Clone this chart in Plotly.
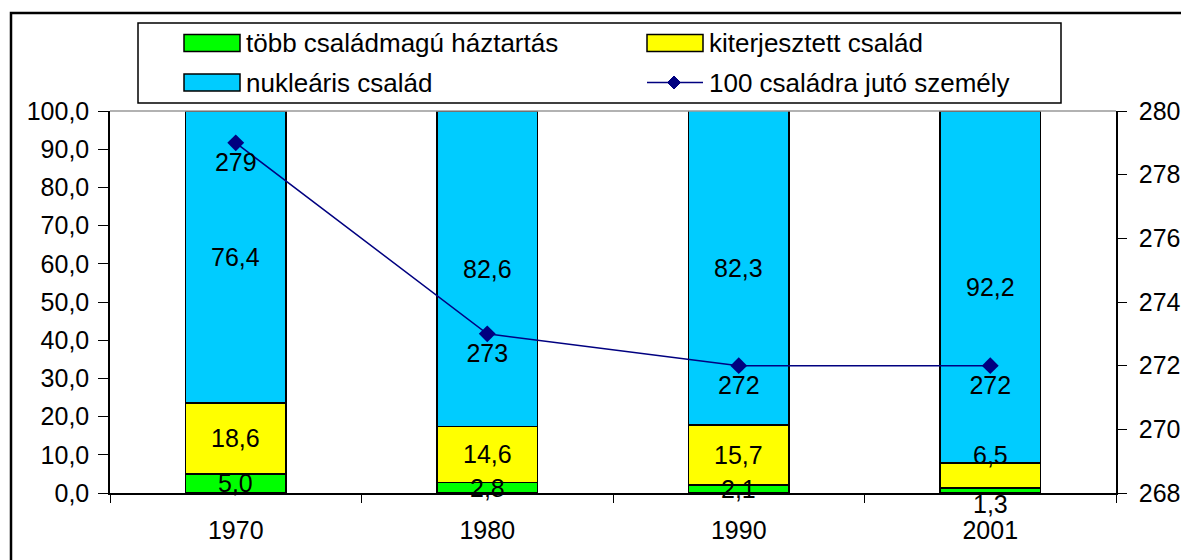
import plotly.graph_objects as go

# adatok
years = ["1970", "1980", "1990", "2001"]
tobb_csaladmagu = [5.0, 2.8, 2.1, 1.3]
kiterjesztett = [18.6, 14.6, 15.7, 6.5]
nuklearis = [76.4, 82.6, 82.3, 92.2]
szemely_100 = [279, 273, 272, 272]

FONT = "Liberation Sans, Arial, sans-serif"
FS = 25

# plot area in pixels (width 1181, height 560)
L, R, T, B = 110, 65, 111, 67
PW = 1181 - L - R
PH = 560 - T - B


def px_x(p):
    return (p - L) / PW


def px_y(p):
    return (560 - B - p) / PH


fig = go.Figure()

series = [
    ("több családmagú háztartás", tobb_csaladmagu, "#00FF00"),
    ("kiterjesztett család", kiterjesztett, "#FFFF00"),
    ("nukleáris család", nuklearis, "#00CCFF"),
]
for name, vals, col in series:
    fig.add_trace(go.Bar(
        x=years, y=vals, name=name,
        marker=dict(color=col, line=dict(color="black", width=1.5)),
        yaxis="y", hoverinfo="y+name", showlegend=False,
    ))

line_name = "100 családra jutó személy"
line_col = "#000080"
fig.add_trace(go.Scatter(
    x=years, y=szemely_100, name=line_name,
    mode="lines+markers+text",
    line=dict(color=line_col, width=1.5),
    marker=dict(symbol="diamond", size=13, color=line_col),
    text=[str(v) for v in szemely_100],
    textposition="bottom center",
    textfont=dict(family=FONT, size=FS, color="black"),
    yaxis="y2", showlegend=False,
))

# bar segment labels centred in each segment (a few nudged as in the original)
nudge = {(3, 0): -13, (3, 1): 21}
annotations = []
for i, yr in enumerate(years):
    base = 0
    for k, (_, vals, _) in enumerate(series):
        v = vals[i]
        annotations.append(dict(
            x=i, y=base + v / 2, xref="x", yref="y",
            text=f"{v:.1f}".replace(".", ","), showarrow=False,
            yshift=nudge.get((i, k), 0),
            font=dict(family=FONT, size=FS, color="black"),
        ))
        base += v

# hand-drawn legend box (Excel style, wide swatches)
shapes = [
    dict(type="rect", xref="paper", yref="paper",
         x0=px_x(138), x1=px_x(1061), y0=px_y(23), y1=px_y(103),
         line=dict(color="black", width=1.5), fillcolor="white", layer="above"),
]
legend_items = [
    (series[0][0], series[0][2], 184, 43),
    (series[1][0], series[1][2], 647, 43),
    (series[2][0], series[2][2], 184, 82.5),
    (line_name, None, 647, 82.5),
]
for name, col, lx, ly in legend_items:
    if col:
        shapes.append(dict(type="rect", xref="paper", yref="paper",
                           x0=px_x(lx), x1=px_x(lx + 56), y0=px_y(ly - 8.5), y1=px_y(ly + 8.5),
                           line=dict(color="black", width=1.5), fillcolor=col, layer="above"))
    else:
        shapes.append(dict(type="line", xref="paper", yref="paper",
                           x0=px_x(lx), x1=px_x(lx + 56), y0=px_y(ly), y1=px_y(ly),
                           line=dict(color=line_col, width=1.5), layer="above"))
        cx, r = lx + 27, 6.5
        path = (f"M {px_x(cx)} {px_y(ly - r)} L {px_x(cx + r)} {px_y(ly)} "
                f"L {px_x(cx)} {px_y(ly + r)} L {px_x(cx - r)} {px_y(ly)} Z")
        shapes.append(dict(type="path", xref="paper", yref="paper", path=path,
                           line=dict(color=line_col, width=1), fillcolor=line_col, layer="above"))
    annotations.append(dict(
        x=px_x(lx + 60), y=px_y(ly), xref="paper", yref="paper",
        xanchor="left", yanchor="middle", text=name, showarrow=False,
        font=dict(family=FONT, size=FS + 1, color="black"),
    ))

shapes += [
    dict(type="line", xref="paper", yref="paper", x0=0, x1=1, y0=1, y1=1,
         line=dict(color="#999999", width=1.5)),
    dict(type="rect", xref="paper", yref="paper",
         x0=px_x(11), x1=px_x(1200), y0=px_y(13), y1=px_y(580),
         line=dict(color="black", width=2.5), fillcolor="rgba(0,0,0,0)"),
]

fig.update_layout(
    width=1181, height=560,
    margin=dict(l=L, r=R, t=T, b=B, autoexpand=False),
    paper_bgcolor="white", plot_bgcolor="white",
    barmode="stack", bargap=0.6,
    separators=", ",
    font=dict(family=FONT, size=FS, color="black"),
    annotations=annotations,
    shapes=shapes,
    showlegend=False,
    xaxis=dict(
        type="category", range=[-0.5, 3.5], showgrid=False, showline=True,
        linecolor="black", linewidth=1.5,
        ticks="outside", tickson="boundaries", ticklen=8, tickcolor="black",
        tickfont=dict(family=FONT, size=FS), tickangle=0, ticklabelstandoff=14,
    ),
    yaxis=dict(
        range=[0, 100], dtick=10, tickformat=".1f", showgrid=False,
        showline=True, linecolor="black", linewidth=1.5,
        ticks="outside", ticklen=10, tickcolor="black",
        tickfont=dict(family=FONT, size=FS), zeroline=False, ticklabelstandoff=4,
    ),
    yaxis2=dict(
        range=[268, 280], dtick=2, overlaying="y", side="right", showgrid=False,
        showline=True, linecolor="black", linewidth=1.5,
        ticks="outside", ticklen=9, tickcolor="black",
        tickfont=dict(family=FONT, size=FS), zeroline=False, ticklabelstandoff=7,
    ),
)

# remove the browser's default page margin so the chart sits at the window corner
fig.write_html("out.html", config={"displayModeBar": False},
               post_script="document.body.style.margin='0';")
